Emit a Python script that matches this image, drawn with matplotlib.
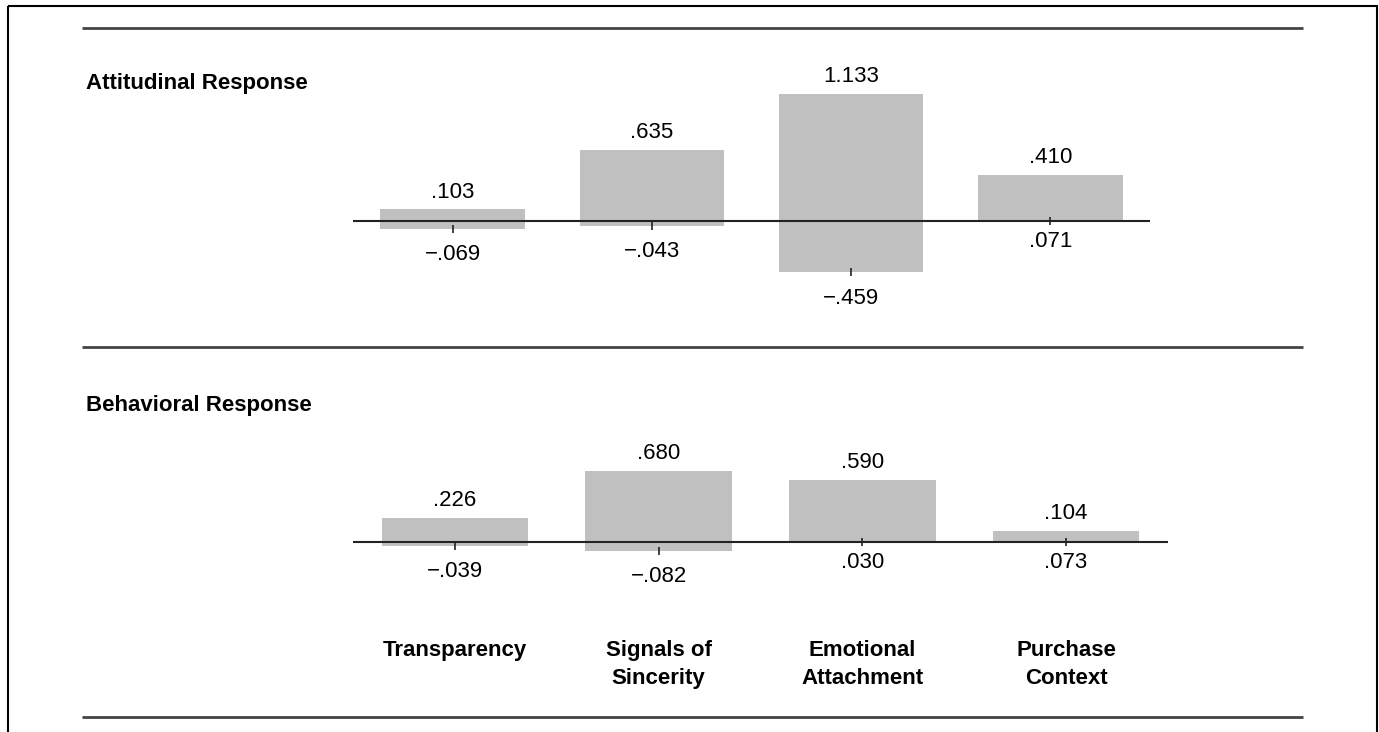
import numpy as np
import matplotlib.pyplot as plt
from matplotlib.patches import Rectangle

plt.rcParams['font.family'] = ['Liberation Sans', 'DejaVu Sans']

# Data
categories = ['Transparency', 'Signals of\nSincerity', 'Emotional\nAttachment', 'Purchase\nContext']
att_upper = [0.103, 0.635, 1.133, 0.410]
att_lower = [-0.069, -0.043, -0.459, 0.071]
beh_upper = [0.226, 0.680, 0.590, 0.104]
beh_lower = [-0.039, -0.082, 0.030, 0.073]

W, H = 1379, 732
fig = plt.figure(figsize=(W / 100, H / 100), dpi=100)


def px_axes(left, top, right, bottom):
    return fig.add_axes([left / W, 1 - bottom / H, (right - left) / W, (bottom - top) / H])


def fmt(v):
    s = f"{abs(v):.3f}".lstrip('0')
    return ('\u2212' + s) if v < 0 else s


# background frame, rules and panel titles
bg = fig.add_axes([0, 0, 1, 1])
bg.set_xlim(0, W)
bg.set_ylim(H, 0)
bg.axis('off')
bg.add_patch(Rectangle((8, 6), 1369, 760, fill=False, lw=1.5, ec='black'))
bg.hlines([28, 347, 717], 82, 1303, color='#444444', lw=2)
bg.text(86, 84, 'Attitudinal Response', fontsize=16, fontweight='bold', va='center')
bg.text(86, 406, 'Behavioral Response', fontsize=16, fontweight='bold', va='center')


def panel(ax, upper, lower, width, scale_top, scale_bot):
    x = np.arange(len(upper))
    lower = np.array(lower)
    low_end = np.minimum(lower, 0)
    ax.bar(x, upper, width, color='#c0c0c0', zorder=1)
    ax.bar(x, low_end, width, color='#c0c0c0', zorder=1)
    ax.axhline(0, color='#222222', lw=1.5, zorder=2)
    ax.plot(x, low_end, ls='none', marker='|', ms=6, mew=1.2, color='#222222', zorder=3)
    for xi, v in zip(x, upper):
        ax.annotate(fmt(v), (xi, v), xytext=(0, 5), textcoords='offset points',
                    ha='center', va='bottom', fontsize=16)
    for xi, v, e in zip(x, lower, low_end):
        ax.annotate(fmt(v), (xi, e), xytext=(0, -11 if v < 0 else -7), textcoords='offset points',
                    ha='center', va='top', fontsize=16)
    ax.set_xlim(-0.5, 3.5)
    ax.set_ylim(scale_bot, scale_top)
    for s in ax.spines.values():
        s.set_visible(False)
    ax.set_yticks([])
    ax.patch.set_alpha(0)


# top panel: baseline at y=221 px
ax1 = px_axes(353, 40, 1150, 330)
panel(ax1, att_upper, att_lower, 0.724, (221 - 40) / 112, -(330 - 221) / 112)
ax1.set_xticks([])

# bottom panel: baseline at y=542 px
ax2 = px_axes(353, 420, 1168, 600)
panel(ax2, beh_upper, beh_lower, 0.72, (542 - 420) / 105, -(600 - 542) / 105)
ax2.set_xticks(np.arange(len(categories)))
ax2.set_xticklabels(categories, fontsize=16, fontweight='bold', va='top', linespacing=1.4)
ax2.tick_params(axis='x', length=0, pad=29)

plt.savefig('out.png', dpi=100)
